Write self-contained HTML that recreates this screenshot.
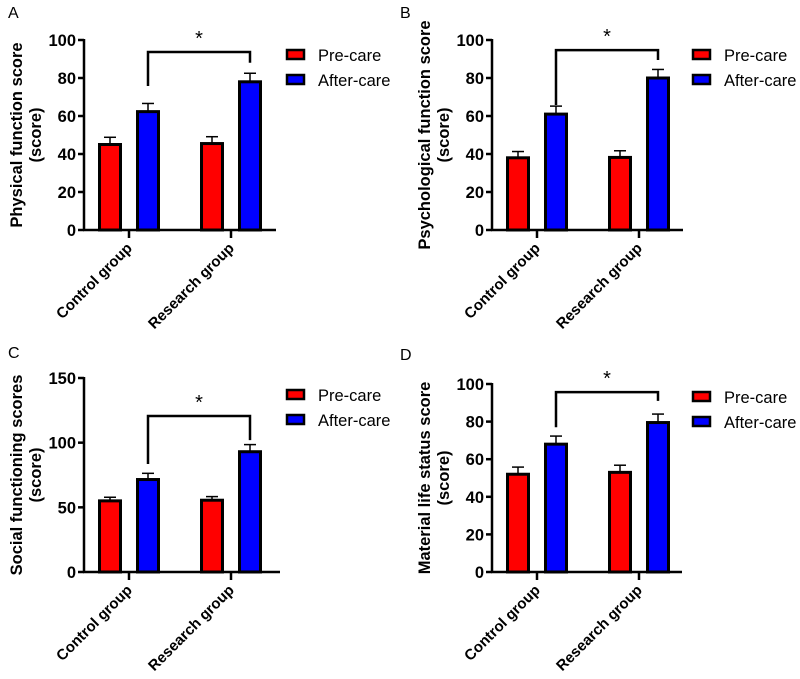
<!DOCTYPE html>
<html><head><meta charset="utf-8"><style>
body{margin:0;background:#fff;}
svg{display:block;font-family:"Liberation Sans",Arial,sans-serif;}
</style></head><body>
<svg id="chart" width="800" height="679" viewBox="0 0 800 679"></svg>
<script>
const categories=["Control group","Research group"];
const seriesNames=["Pre-care","After-care"];
const seriesColors=["#ff0000","#0000ff"];
const preA=[45,45.5], preAErr=[3.8,3.6], afterA=[62.3,78], afterAErr=[4.3,4.5];
const preB=[38,38.2], preBErr=[3.3,3.5], afterB=[61,80], afterBErr=[4.2,4.5];
const preC=[55,55.5], preCErr=[2.8,2.8], afterC=[71.5,93], afterCErr=[4.8,5.5];
const preD=[52,53], preDErr=[3.8,3.8], afterD=[68,79.5], afterDErr=[4.3,4.5];
const ticksA=[0,20,40,60,80,100], ticksB=[0,20,40,60,80,100], ticksC=[0,50,100,150], ticksD=[0,20,40,60,80,100];
const bracketA=[93.7,75.8,88], bracketB=[94.7,65.8,89.5], bracketC=[120.6,83.5,102], bracketD=[95.7,77,91];

const NS="http://www.w3.org/2000/svg";
const svg=document.getElementById('chart');
function mk(tag,attrs,parent,text){const e=document.createElementNS(NS,tag);for(const k in attrs)e.setAttribute(k,attrs[k]);if(text!==undefined)e.textContent=text;parent.appendChild(e);return e;}

const panels=[
 {id:'a',letter:'A',lx:8,ly:18,ax:84,top:40,bot:230,end:276,ymax:100,ticks:ticksA,pre:preA,preE:preAErr,aft:afterA,aftE:afterAErr,br:bracketA,t1:"Physical function score",t2:"(score)",legX:287,legY:55},
 {id:'b',letter:'B',lx:400,ly:18,ax:492,top:40,bot:230,end:683,ymax:100,ticks:ticksB,pre:preB,preE:preBErr,aft:afterB,aftE:afterBErr,br:bracketB,t1:"Psychological  function score",t2:"(score)",legX:693,legY:55},
 {id:'c',letter:'C',lx:8,ly:358,ax:84,top:378,bot:572,end:280,ymax:150,ticks:ticksC,pre:preC,preE:preCErr,aft:afterC,aftE:afterCErr,br:bracketC,t1:"Social functioning scores",t2:"(score)",legX:287,legY:395},
 {id:'d',letter:'D',lx:400,ly:360,ax:492,top:384,bot:572,end:682,ymax:100,ticks:ticksD,pre:preD,preE:preDErr,aft:afterD,aftE:afterDErr,br:bracketD,t1:"Material life status score",t2:"(score)",legX:693,legY:397}
];

panels.forEach(p=>{
 const g=mk('g',{},svg);
 
 
 const y=v=>p.bot-(v/p.ymax)*(p.bot-p.top);
 const lt=mk('text',{x:p.lx,y:p.ly,'font-size':16,fill:'#000'},g,p.letter);
 
 
 const cy=(p.top+p.bot)/2;
 const yt=mk('text',{transform:`translate(${p.ax-62},${cy}) rotate(-90)`,'text-anchor':'middle','font-size':16.5,'font-weight':'bold'},g);
 
 
 mk('tspan',{x:0,y:0},yt,p.t1);
 mk('tspan',{x:0,y:19},yt,p.t2);
 const yax=mk('line',{x1:p.ax,y1:p.top-1,x2:p.ax,y2:p.bot+1,stroke:'#000','stroke-width':2.5},g);
 
 
 const xax=mk('line',{x1:p.ax-1,y1:p.bot,x2:p.end,y2:p.bot,stroke:'#000','stroke-width':2.5},g);
 
 
 p.ticks.forEach(t=>{
  mk('line',{x1:p.ax-6,y1:y(t),x2:p.ax,y2:y(t),stroke:'#000','stroke-width':2.5},g);
  const tl=mk('text',{x:p.ax-8,y:y(t)+6,'text-anchor':'end','font-size':16.5,'font-weight':'bold'},g,t);
  
  
 });
 categories.forEach((c,i)=>{
  const cx=p.ax+45+i*102;
  mk('line',{x1:cx,y1:p.bot,x2:cx,y2:p.bot+8,stroke:'#000','stroke-width':2.5},g);
  const cl=mk('text',{transform:`translate(${cx+4},${p.bot+19}) rotate(-45)`,'text-anchor':'end','font-size':15,'font-weight':'bold'},g,c);
  
  
  [[p.pre,p.preE],[p.aft,p.aftE]].forEach((s,j)=>{
   const bx=cx-19+j*38, v=s[0][i], e=s[1][i];
   mk('line',{x1:bx,y1:y(v),x2:bx,y2:y(v+e),stroke:'#000','stroke-width':1.5},g);
   mk('line',{x1:bx-6,y1:y(v+e),x2:bx+6,y2:y(v+e),stroke:'#000','stroke-width':1.5},g);
   const r=mk('rect',{x:bx-10.5,y:y(v),width:21,height:p.bot-y(v),fill:seriesColors[j],stroke:'#000','stroke-width':3},g);
   
   
  });
 });
 const bx1=p.ax+45+19, bx2=p.ax+45+102+19;
 const br=mk('path',{d:`M${bx1},${y(p.br[1])}V${y(p.br[0])}H${bx2}V${y(p.br[2])}`,fill:'none',stroke:'#000','stroke-width':2.5},g);
 
 
 const st=mk('text',{x:(bx1+bx2)/2,y:y(p.br[0])-7,'text-anchor':'middle','font-size':20},g,'*');
 
 
 seriesNames.forEach((n,j)=>{
  const ly=p.legY+j*25;
  const le=mk('g',{},g);
  
  
  mk('rect',{x:p.legX,y:ly-5,width:17,height:9,fill:seriesColors[j],stroke:'#000','stroke-width':2.5},le);
  mk('text',{x:p.legX+31,y:ly+6,'font-size':16.5},le,n);
 });
});
</script>
</body></html>
